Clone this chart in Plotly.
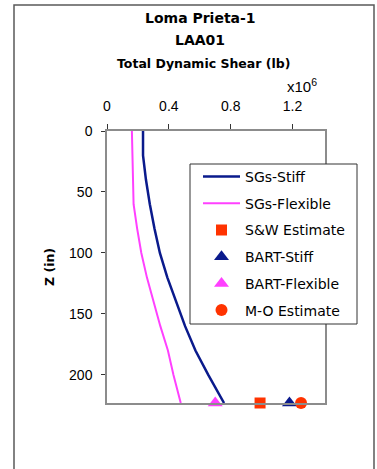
import plotly.graph_objects as go

# Depth along the wall (in) where shear is tracked
z_in = [0, 20, 40, 60, 80, 100, 120, 140, 160, 180, 200, 223]

# Total dynamic shear from strain gauges (x10^6 lb)
sg_stiff = [0.233, 0.233, 0.252, 0.277, 0.307, 0.342, 0.390, 0.445, 0.505, 0.572, 0.655, 0.757]
sg_flexible = [0.161, 0.164, 0.168, 0.172, 0.195, 0.222, 0.258, 0.300, 0.345, 0.394, 0.430, 0.477]

# Resultant estimates at the base (x10^6 lb)
z_base = [223]
sw_estimate = [0.99]
bart_stiff = [1.18]
bart_flexible = [0.70]
mo_estimate = [1.255]

x_ticks = [0, 0.4, 0.8, 1.2]
y_ticks = [0, 50, 100, 150, 200]

NAVY = "#0a1a8c"
MAGENTA = "#ff40ff"
RED = "#ff3300"

fig = go.Figure()
fig.add_trace(go.Scatter(x=sg_stiff, y=z_in, mode="lines", name="SGs-Stiff",
                         line=dict(color=NAVY, width=2.5), legendgroup="a"))
fig.add_trace(go.Scatter(x=sg_flexible, y=z_in, mode="lines", name="SGs-Flexible",
                         line=dict(color=MAGENTA, width=2), legendgroup="b"))
fig.add_trace(go.Scatter(x=sw_estimate, y=z_base, mode="markers", name="S&W Estimate",
                         marker=dict(symbol="square", size=11, color=RED), legendgroup="c"))
fig.add_trace(go.Scatter(x=bart_stiff, y=z_base, mode="markers", name="BART-Stiff",
                         marker=dict(symbol="triangle-up", size=13, color=NAVY), legendgroup="d"))
fig.add_trace(go.Scatter(x=bart_flexible, y=z_base, mode="markers", name="BART-Flexible",
                         marker=dict(symbol="triangle-up", size=13, color=MAGENTA), legendgroup="e"))
fig.add_trace(go.Scatter(x=mo_estimate, y=z_base, mode="markers", name="M-O Estimate",
                         marker=dict(symbol="circle", size=12, color=RED), legendgroup="f"))
for tr in fig.data:
    tr.cliponaxis = False

W, H = 377, 469
L, R, T, B = 107, 52, 131, 66
PW, PH = W - L - R, H - T - B


def px(x):
    return (x - L) / PW


def py(y):
    return (H - B - y) / PH


title_font = dict(family="DejaVu Sans", size=14, color="black", weight="bold")
annotations = [
    dict(text="Loma Prieta-1", x=px(200), y=py(18), font=title_font),
    dict(text="LAA01", x=px(200), y=py(40), font=title_font),
    dict(text="Total Dynamic Shear (lb)", x=px(203), y=py(63),
         font=dict(family="DejaVu Sans", size=12.5, color="black", weight="bold")),
    dict(text="x10<sup>6</sup>", x=px(302), y=py(86),
         font=dict(family="Liberation Sans", size=15, color="black")),
    dict(text="Z (in)", x=px(49), y=py(267), textangle=-90,
         font=dict(family="DejaVu Sans", size=12.5, color="black", weight="bold")),
]
for a in annotations:
    a.update(xref="paper", yref="paper", showarrow=False, xanchor="center", yanchor="middle")

shapes = [
    # outer chart frame
    dict(type="rect", xref="paper", yref="paper", x0=px(14), x1=px(374), y0=py(480), y1=py(5),
         line=dict(color="#5a5a5a", width=1.5), fillcolor="rgba(0,0,0,0)", layer="below"),
    # legend box
    dict(type="rect", xref="paper", yref="paper", x0=px(190), x1=px(357), y0=py(324), y1=py(164),
         line=dict(color="#333333", width=1), fillcolor="white", layer="above"),
]

fig.update_layout(
    width=W, height=H,
    margin=dict(l=L, r=R, t=T, b=B),
    paper_bgcolor="white", plot_bgcolor="white",
    font=dict(family="Liberation Sans", size=14, color="black"),
    showlegend=True,
    legend=dict(x=px(198), y=py(161), xanchor="left", yanchor="top",
                bgcolor="rgba(0,0,0,0)", borderwidth=0,
                font=dict(family="DejaVu Sans", size=14, color="black"),
                traceorder="grouped", tracegroupgap=5.5, itemwidth=37),
    annotations=annotations,
    shapes=shapes,
)
fig.update_xaxes(side="top", range=[0, 1.41], tickvals=x_ticks, ticktext=[f"{v:g}" for v in x_ticks],
                 showgrid=False, zeroline=False, showline=True, mirror=True,
                 linecolor="#8c8c8c", linewidth=1.5, ticks="outside", ticklen=5,
                 tickcolor="#333333", ticklabelstandoff=8,
                 tickfont=dict(family="Liberation Sans", size=14))
fig.update_yaxes(range=[223, 0], tickvals=y_ticks, showgrid=False, zeroline=False,
                 showline=True, mirror=True, linecolor="#8c8c8c", linewidth=1.5,
                 ticks="outside", ticklen=4, tickcolor="#333333", ticklabelstandoff=6,
                 tickfont=dict(family="Liberation Sans", size=14))

fig.write_html("out.html")
